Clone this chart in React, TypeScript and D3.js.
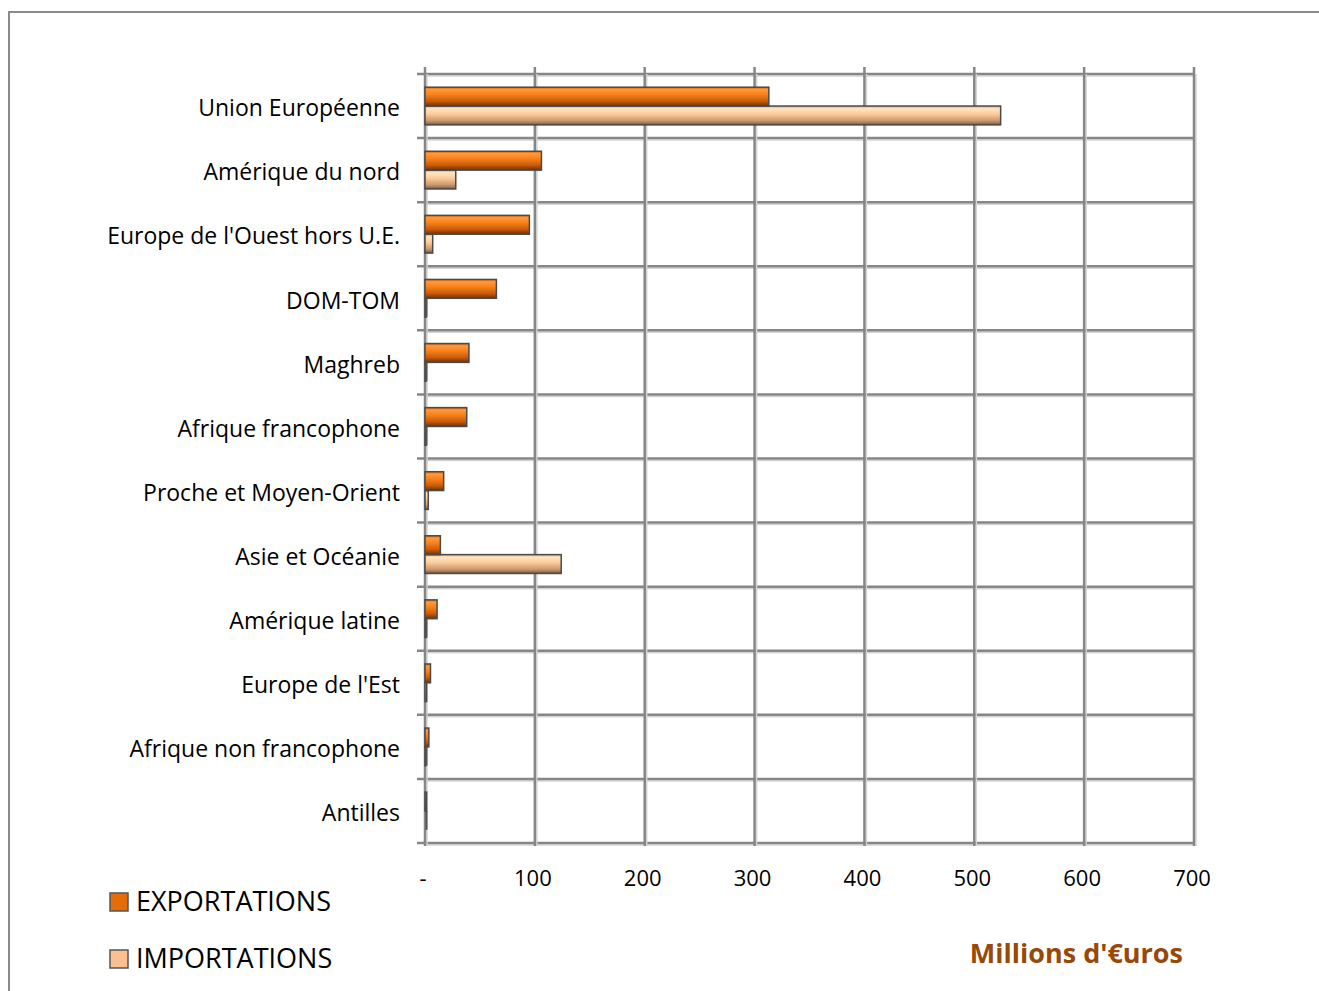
import React from "react";
import * as d3 from "d3";

const categories = [
  "Union Européenne",
  "Amérique du nord",
  "Europe de l'Ouest hors U.E.",
  "DOM-TOM",
  "Maghreb",
  "Afrique francophone",
  "Proche et Moyen-Orient",
  "Asie et Océanie",
  "Amérique latine",
  "Europe de l'Est",
  "Afrique non francophone",
  "Antilles",
];
const exportations = [313, 106, 95, 65, 40, 38, 17, 14, 11, 5, 3.5, 1.5];
const importations = [524, 28, 7, 1, 1, 1, 3, 124, 1, 1.5, 0.5, 0];
const xTicks = [0, 100, 200, 300, 400, 500, 600, 700];
const tickLabel = (v: number) => (v === 0 ? "-" : String(v));

const W = 1319;
const H = 991;
const left = 425;
const right = 1194;
const top = 74;
const bottom = 843;

export default function App() {
  const x = d3.scaleLinear().domain([0, 700]).range([left, right]);
  const y = d3.scaleBand<string>().domain(categories).range([top, bottom]);
  const inner = d3
    .scaleBand<string>()
    .domain(["exp", "imp"])
    .range([0, y.bandwidth()])
    .paddingOuter(0.7)
    .paddingInner(0);
  const font = "'Open Sans', sans-serif";
  const grid = "#868686";
  const boundaries = d3.range(categories.length + 1).map((i) => top + i * y.step());

  return (
    <svg
      width={W}
      height={H}
      style={{ position: "absolute", left: 0, top: 0, background: "#fff" }}
    >
      <defs>
        <linearGradient id="gExp" x1="0" y1="0" x2="0" y2="1">
          <stop offset="0" stopColor="#d86408" />
          <stop offset="0.12" stopColor="#ff9a3a" />
          <stop offset="0.4" stopColor="#f8801a" />
          <stop offset="0.75" stopColor="#c85a08" />
          <stop offset="1" stopColor="#6a3206" />
        </linearGradient>
        <linearGradient id="gImp" x1="0" y1="0" x2="0" y2="1">
          <stop offset="0" stopColor="#e8b284" />
          <stop offset="0.15" stopColor="#ffe6c0" />
          <stop offset="0.45" stopColor="#fbc898" />
          <stop offset="0.8" stopColor="#c8946a" />
          <stop offset="1" stopColor="#725844" />
        </linearGradient>
      </defs>
      {/* outer frame */}
      <rect x={9} y={12} width={1340} height={1000} fill="none" stroke="#8a8a8a" strokeWidth={2} />

      {/* horizontal grid lines */}
      {boundaries.map((b, i) => (
        <g key={"h" + i}>
          <line x1={left} x2={right} y1={b + 2} y2={b + 2} stroke="#d4d4d4" strokeWidth={1.5} />
          <line x1={left - 8} x2={right} y1={b} y2={b} stroke={grid} strokeWidth={2.5} />
        </g>
      ))}
      {/* vertical grid lines */}
      {xTicks.map((t) => (
        <g key={"v" + t}>
          <line x1={x(t) + 2} x2={x(t) + 2} y1={top} y2={bottom + 3} stroke="#d4d4d4" strokeWidth={1.5} />
          <line x1={x(t)} x2={x(t)} y1={top - 7} y2={bottom + 3} stroke={grid} strokeWidth={2.5} />
        </g>
      ))}

      {/* bars */}
      {categories.map((c, i) => {
        const y0 = (y(c) as number) + (inner("exp") as number);
        const y1 = (y(c) as number) + (inner("imp") as number);
        const bh = inner.bandwidth();
        const we = Math.max(x(exportations[i]) - x(0), 0);
        const wi = Math.max(x(importations[i]) - x(0), 0);
        return (
          <g key={c}>
            {wi > 0 && (
              <rect x={x(0)} y={y1} width={wi} height={bh} fill="url(#gImp)" stroke="#4a4a4a" strokeWidth={1.5} />
            )}
            {importations[i] === 0 || wi < 1.5 ? (
              <line x1={x(0) + 1.5} x2={x(0) + 1.5} y1={y1} y2={y1 + bh} stroke="#555" strokeWidth={2} />
            ) : null}
            {we > 0 && (
              <rect x={x(0)} y={y0} width={we} height={bh} fill="url(#gExp)" stroke="#4a4a4a" strokeWidth={1.5} />
            )}
          </g>
        );
      })}

      {/* category labels */}
      {categories.map((c) => (
        <text
          key={"l" + c}
          x={400}
          y={(y(c) as number) + y.bandwidth() / 2 + 2}
          dy="0.36em"
          textAnchor="end"
          fontFamily={font}
          fontSize={23}
          fill="#000"
        >
          {c}
        </text>
      ))}

      {/* x tick labels */}
      {xTicks.map((t) => (
        <text
          key={"t" + t}
          x={x(t) - 2}
          y={886}
          textAnchor="middle"
          fontFamily={font}
          fontSize={22}
          fill="#000"
        >
          {tickLabel(t)}
        </text>
      ))}

      {/* legend */}
      <rect x={110} y={893} width={18} height={18} fill="#e46c0a" stroke="#555" strokeWidth={1.5} />
      <text x={136} y={911} fontFamily={font} fontSize={27} fill="#000">
        EXPORTATIONS
      </text>
      <rect x={110} y={950} width={18} height={18} fill="#fac090" stroke="#555" strokeWidth={1.5} />
      <text x={136} y={968} fontFamily={font} fontSize={27} fill="#000">
        IMPORTATIONS
      </text>

      <text
        x={1183}
        y={963}
        textAnchor="end"
        fontFamily={font}
        fontSize={27}
        fontWeight="bold"
        fill="#984807"
      >
        Millions d'€uros
      </text>
    </svg>
  );
}
